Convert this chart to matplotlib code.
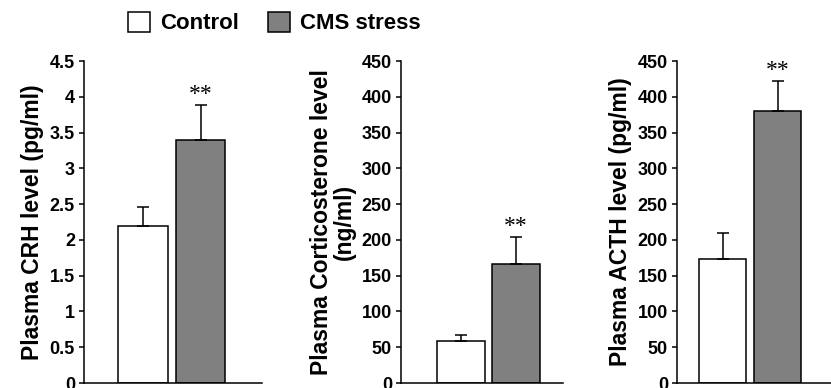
import matplotlib
matplotlib.use("Agg")
import matplotlib.pyplot as plt
from matplotlib.patches import Patch

plt.rcParams['font.family'] = ['Liberation Sans', 'DejaVu Sans']
plt.rcParams['font.weight'] = 'bold'

# data
groups = ["Control", "CMS stress"]
crh = [2.2, 3.4]
crh_err = [0.26, 0.48]
cort = [59, 167]
cort_err = [8, 37]
acth = [173, 380]
acth_err = [37, 42]

crh_ticks = [0, 0.5, 1, 1.5, 2, 2.5, 3, 3.5, 4, 4.5]
crh_ticklabels = ["0", "0.5", "1", "1.5", "2", "2.5", "3", "3.5", "4", "4.5"]
big_ticks = [0, 50, 100, 150, 200, 250, 300, 350, 400, 450]

colors = ["white", "#808080"]

fig = plt.figure(figsize=(8.31, 3.88), dpi=100)
W, H = 831, 388


def make_axes(left_px, right_px):
    return fig.add_axes([left_px / W, 5 / H, (right_px - left_px) / W, (383 - 61) / H])


def draw_panel(ax, vals, errs, ticks, ticklabels, ylabel, xlim):
    x = [0, 1]
    ax.bar(x, vals, width=0.86, color=colors, edgecolor="black", linewidth=1.1)
    ax.errorbar(x, vals, yerr=[[0, 0], errs], fmt="none", ecolor="black",
                elinewidth=1.1, capsize=4, capthick=1.1)
    ax.annotate("**", (1, vals[1] + errs[1]), xytext=(0, 0), textcoords="offset points",
                ha="center", va="bottom", fontsize=17, fontweight="normal",
                family="Liberation Serif")
    ax.set_ylim(ticks[0], ticks[-1])
    ax.set_xlim(*xlim)
    ax.set_yticks(ticks)
    ax.set_yticklabels(ticklabels)
    ax.set_xticks([])
    for s in ["top", "right"]:
        ax.spines[s].set_visible(False)
    for s in ["left", "bottom"]:
        ax.spines[s].set_linewidth(1.1)
    ax.tick_params(axis="y", direction="out", length=3.5, width=1.1, labelsize=13, pad=3)
    ax.set_ylabel(ylabel, fontsize=16.5, fontweight="bold", labelpad=4, linespacing=1.0)


ax1 = make_axes(84, 262)
draw_panel(ax1, crh, crh_err, crh_ticks, crh_ticklabels,
           "Plasma CRH level (pg/ml)", (-1.03, 2.07))

ax2 = make_axes(401, 563)
draw_panel(ax2, cort, cort_err, big_ticks, [str(t) for t in big_ticks],
           "Plasma Corticosterone level\n(ng/ml)", (-1.09, 1.855))

ax3 = make_axes(677, 860)
draw_panel(ax3, acth, acth_err, big_ticks, [str(t) for t in big_ticks],
           "Plasma ACTH level (pg/ml)", (-0.83, 2.5))

handles = [Patch(facecolor=c, edgecolor="black", linewidth=1.1) for c in colors]
fig.legend(handles, groups, loc="center left", bbox_to_anchor=(128 / W, 1 - 23 / H),
           ncol=2, frameon=False, borderpad=0, borderaxespad=0,
           handlelength=1.0, handleheight=1.0, handletextpad=0.45,
           columnspacing=1.3, prop={"size": 16, "weight": "bold"})

fig.savefig("out.png", dpi=100)
